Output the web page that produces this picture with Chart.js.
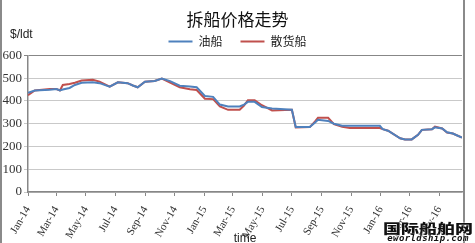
<!DOCTYPE html>
<html>
<head>
<meta charset="utf-8">
<script src="https://cdn.jsdelivr.net/npm/chart.js@4.4.1/dist/chart.umd.min.js"></script>
<style>
  html, body { margin: 0; padding: 0; background: #fff; }
  #wrap { position: relative; width: 475px; height: 243px; overflow: hidden; }
  #logo { position: absolute; left: 381px; top: 221px; width: 94px; text-align: center;
          font-family: 'Noto Sans CJK SC'; font-weight: 900; font-size: 18px; line-height: 18px;
          color: #111; transform: scaleY(0.7); transform-origin: top left;
          text-shadow: 0 0 2px #fff, 0 0 2px #fff; }
  #logo2 { position: absolute; left: 381px; top: 233px; width: 94px; text-align: center;
           font-family: 'DejaVu Sans Mono'; font-weight: bold; font-style: italic; font-size: 9px;
           line-height: 10px; letter-spacing: 0.4px; color: #111; text-shadow: 0 0 2px #fff; }
</style>
</head>
<body>
<div id="wrap">
  <canvas id="shipChart" width="475" height="243"></canvas>
  <div id="logo">国际船舶网</div>
  <div id="logo2">eworldship.com</div>
</div>
<script>
// Ship demolition prices ($/ldt)
const startDate = '2014-01-01';
const dates = [
  '2014-01-01', '2014-01-15', '2014-02-15', '2014-03-01', '2014-03-08', '2014-03-14', '2014-03-28',
  '2014-04-08', '2014-04-22', '2014-05-15', '2014-05-29', '2014-06-19', '2014-07-06', '2014-07-26',
  '2014-08-06', '2014-08-16', '2014-08-31', '2014-09-20', '2014-10-05', '2014-10-22', '2014-11-11',
  '2014-12-02', '2014-12-16', '2015-01-02', '2015-01-19', '2015-02-02', '2015-02-19', '2015-03-15',
  '2015-03-24', '2015-04-01', '2015-04-15', '2015-04-30', '2015-05-21', '2015-07-01', '2015-07-09',
  '2015-08-07', '2015-08-18', '2015-08-24', '2015-09-14', '2015-09-26', '2015-10-13', '2015-10-29',
  '2015-12-30', '2016-01-05', '2016-01-16', '2016-02-10', '2016-02-20', '2016-03-05', '2016-03-18',
  '2016-03-26', '2016-04-16', '2016-04-22', '2016-05-07', '2016-05-17', '2016-05-29', '2016-06-17'
];
const tanker = [
  436, 446, 449, 452, 446, 450, 457,
  470, 480, 482, 478, 463, 482, 478,
  468, 460, 484, 488, 498, 487, 467,
  463, 460, 422, 418, 384, 376, 376,
  384, 396, 396, 373, 367, 361, 285,
  285, 305, 317, 312, 300, 291, 291,
  291, 276, 269, 236, 231, 231, 251,
  273, 276, 284, 279, 262, 257, 239
];
const bulker = [
  425, 446, 452, 452, 446, 470, 474,
  480, 490, 493, 485, 463, 482, 478,
  468, 460, 484, 488, 498, 480, 460,
  451, 448, 410, 408, 376, 361, 361,
  380, 403, 403, 381, 358, 361, 283,
  285, 310, 326, 326, 298, 287, 281,
  281, 276, 269, 236, 231, 231, 251,
  273, 276, 287, 279, 261, 257, 239
];
const tickDates = [
  '2014-01-01', '2014-03-01', '2014-05-01', '2014-07-01', '2014-09-01', '2014-11-01',
  '2015-01-01', '2015-03-01', '2015-05-01', '2015-07-01', '2015-09-01', '2015-11-01',
  '2016-01-01', '2016-03-01', '2016-05-01'
];
const tickLabels = [
  'Jan-14', 'Mar-14', 'May-14', 'Jul-14', 'Sep-14', 'Nov-14',
  'Jan-15', 'Mar-15', 'May-15', 'Jul-15', 'Sep-15', 'Nov-15',
  'Jan-16', 'Mar-16', 'May-16'
];
const seriesNames = ['油船', '散货船'];
const chartTitle = '拆船价格走势';
const unitLabel = '$/ldt';
const axisTitle = 'time';

const COLORS = { tanker: '#4F81BD', bulker: '#C0504D', axis: '#878787', grid: '#c9c9c9' };

// day offset from the first date, so the x axis spaces points like a date axis
function dayOf(d) {
  return Math.round((Date.parse(d) - Date.parse(startDate)) / 864e5);
}
const tickDays = tickDates.map(dayOf);
const toPoints = vals => dates.map((d, i) => ({ x: dayOf(d), y: vals[i] }));

// frame lines and unit text
const extras = {
  id: 'extras',
  afterDraw(chart) {
    const ctx = chart.ctx;
    ctx.save();
    ctx.strokeStyle = '#8a8a8a';
    ctx.lineWidth = 2;
    ctx.beginPath();
    ctx.moveTo(1, 0); ctx.lineTo(1, chart.height);
    ctx.moveTo(464, 0); ctx.lineTo(464, chart.height);
    ctx.stroke();
    ctx.fillStyle = '#222';
    ctx.font = '12px "Liberation Sans"';
    ctx.textBaseline = 'middle';
    ctx.fillText(unitLabel, 10, 35);
    ctx.restore();
  }
};

new Chart(document.getElementById('shipChart'), {
  type: 'line',
  data: {
    datasets: [{
      label: seriesNames[0],
      data: toPoints(tanker),
      borderColor: COLORS.tanker,
      backgroundColor: COLORS.tanker,
      borderWidth: 2,
      pointRadius: 0,
      tension: 0
    }, {
      label: seriesNames[1],
      data: toPoints(bulker),
      borderColor: COLORS.bulker,
      backgroundColor: COLORS.bulker,
      borderWidth: 2,
      pointRadius: 0,
      tension: 0
    }]
  },
  options: {
    responsive: false,
    animation: false,
    layout: { padding: 0 },
    plugins: {
      title: {
        display: true,
        text: chartTitle,
        color: '#111',
        font: { family: 'Noto Sans CJK SC', size: 17, weight: 'normal' },
        padding: { top: 9, bottom: -12 }
      },
      legend: {
        display: true,
        maxHeight: 38,
        labels: {
          color: '#222',
          font: { family: 'Noto Sans CJK SC', size: 12 },
          boxWidth: 24,
          boxHeight: 2,
          padding: 18,
          generateLabels(chart) {
            return Chart.defaults.plugins.legend.labels.generateLabels(chart)
              .map(l => Object.assign(l, { lineWidth: 0 }));
          }
        }
      },
      tooltip: { enabled: false }
    },
    scales: {
      x: {
        type: 'linear',
        min: 0,
        max: dayOf(dates[dates.length - 1]),
        afterBuildTicks(scale) {
          scale.ticks = tickDays.map(v => ({ value: v }));
        },
        afterFit(scale) { scale.height = 51; },
        grid: { drawOnChartArea: false, drawTicks: true, tickLength: 4, color: COLORS.axis },
        border: { color: COLORS.axis, width: 1.5 },
        ticks: {
          autoSkip: false,
          minRotation: 60,
          maxRotation: 60,
          padding: 8,
          color: '#333',
          font: { family: 'Liberation Serif', size: 11 },
          callback: v => tickLabels[tickDays.indexOf(v)]
        },
        title: {
          display: true,
          text: axisTitle,
          color: '#222',
          font: { family: 'Liberation Sans', size: 12 },
          padding: { top: 0, bottom: -3 }
        }
      },
      y: {
        min: 0,
        max: 600,
        afterFit(scale) { scale.width = 28; },
        grid: {
          tickLength: 4,
          color: c => (c.tick && c.tick.value === 600 ? COLORS.axis : COLORS.grid)
        },
        border: { color: COLORS.axis, width: 1.5 },
        ticks: {
          stepSize: 100,
          padding: 2,
          color: '#333',
          font: { family: 'Liberation Serif', size: 13 }
        }
      },
      spacer: {
        position: 'right',
        display: true,
        min: 0,
        max: 1,
        afterFit(scale) { scale.width = 13; },
        grid: { display: false },
        border: { display: false },
        ticks: { display: false }
      }
    }
  },
  plugins: [extras]
});
</script>
</body>
</html>
